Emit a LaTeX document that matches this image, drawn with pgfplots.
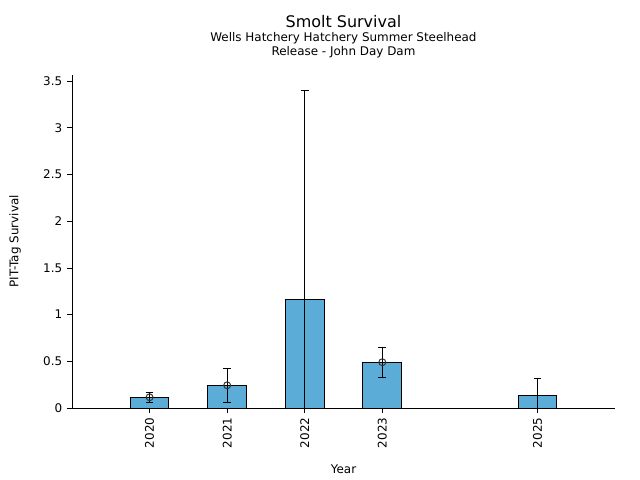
\documentclass[border=0pt]{standalone}
\usepackage{pgfplots}
\usepackage{pgfplotstable}
\pgfplotsset{compat=1.18}
\usepackage{fontspec}
\setmainfont{DejaVu Sans}
\definecolor{barblue}{RGB}{91,172,214}
\pgfplotstableread{
year surv eplus eminus
2020 0.115 0.053 0.051
2021 0.243 0.177 0.189
2022 1.167 2.233 2.233
2023 0.490 0.161 0.161
2025 0.136 0.183 0.183
}\survtable
\pgfplotstableread{
year surv
2020 0.115
2021 0.243
2023 0.490
}\meantable
\begin{document}
\begin{tikzpicture}[x=1pt,y=1pt]
\path[use as bounding box] (0,0) rectangle (460.8,345.6);
\begin{axis}[
  at={(51.84pt,51.84pt)}, anchor=south west,
  scale only axis, width=391pt, height=240pt,
  xmin=2019, xmax=2026, ymin=0, ymax=3.57,
  axis x line=bottom, axis y line=left,
  axis line style={-, line width=0.6pt},
  tick align=outside, major tick length=3.5pt,
  tick style={black, line width=0.6pt},
  xtick={2020,2021,2022,2023,2025},
  xticklabels={2020,2021,2022,2023,2025},
  xticklabel style={rotate=90, anchor=east, font=\fontsize{8.6}{10}\selectfont},
  ytick={0,0.5,1,1.5,2,2.5,3,3.5},
  yticklabels={0,0.5,1,1.5,2,2.5,3,3.5},
  yticklabel style={font=\fontsize{8.6}{10}\selectfont},
  xlabel={Year}, ylabel={PIT-Tag Survival},
  xlabel style={at={(axis description cs:0.5,-0.183)}, anchor=center, font=\fontsize{8.6}{10}\selectfont},
  ylabel style={at={(axis description cs:-0.105,0.5)}, anchor=center, rotate=0, font=\fontsize{8.6}{10}\selectfont},
  clip=true,
]
\addplot[ybar, bar width=0.5, fill=barblue, draw=black, line width=0.7pt,
  error bars/.cd, y dir=both, y explicit,
  error bar style={line width=0.7pt, black},
  error mark options={rotate=90, mark size=2.8pt, line width=0.7pt}]
  table[x=year, y=surv, y error plus=eplus, y error minus=eminus] {\survtable};
\addplot[only marks, mark=o, mark size=2.5pt, mark options={draw=black!80, line width=0.7pt}]
  table[x=year, y=surv] {\meantable};
\end{axis}
\node[font=\fontsize{11.5}{13}\selectfont] at (247.3,329.8) {Smolt Survival};
\node[font=\fontsize{8.6}{10}\selectfont] at (247.3,318.2) {Wells Hatchery Hatchery Summer Steelhead};
\node[font=\fontsize{8.6}{10}\selectfont] at (247.3,307.8) {Release - John Day Dam};
\end{tikzpicture}
\end{document}
